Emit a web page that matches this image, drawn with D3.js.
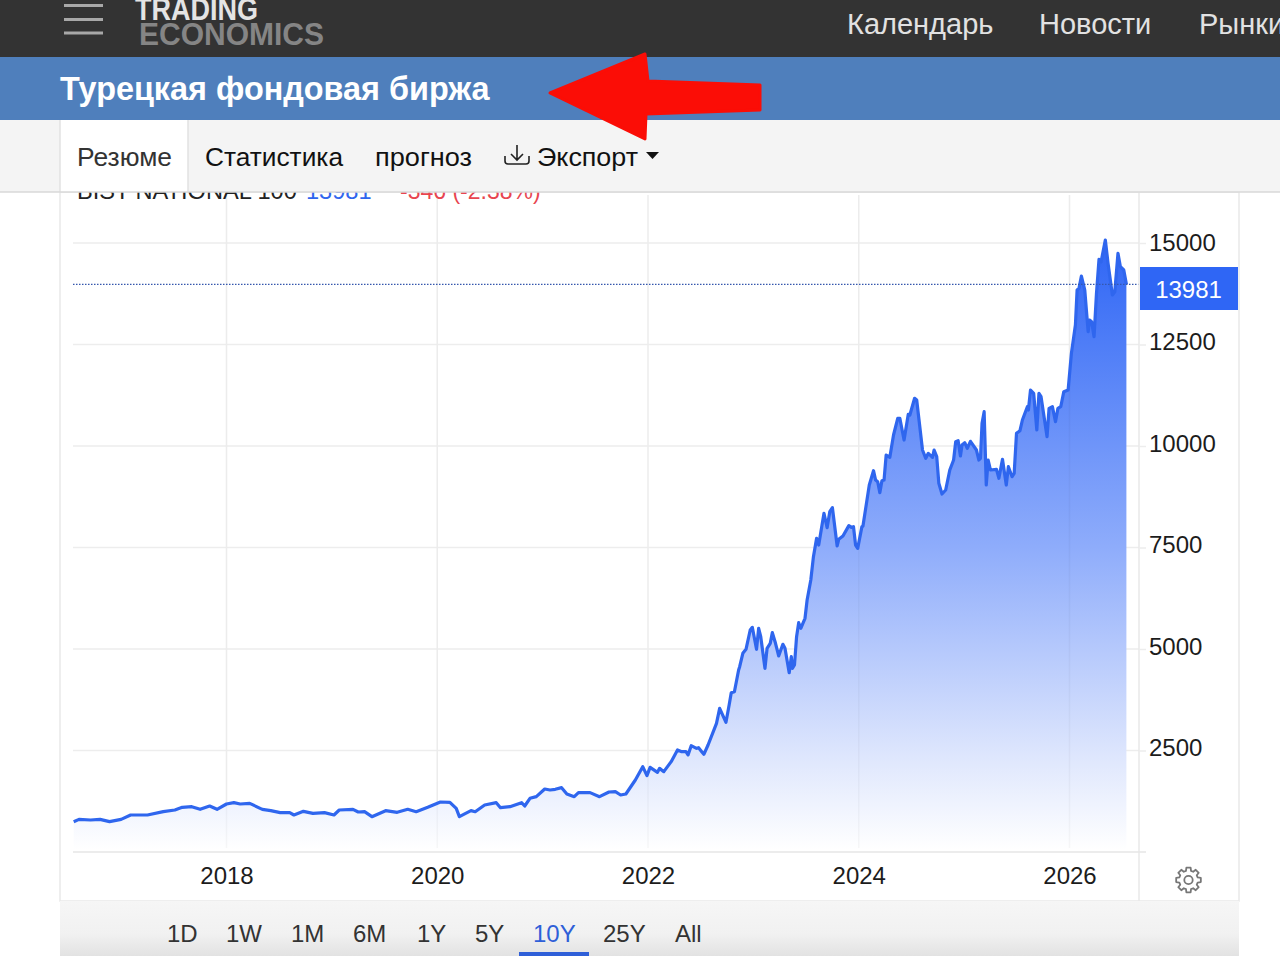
<!DOCTYPE html>
<html>
<head>
<meta charset="utf-8">
<title>Турецкая фондовая биржа</title>
<script src="https://cdn.jsdelivr.net/npm/d3@7"></script>
<style>
    html, body { margin: 0; padding: 0; background: #fff; overflow: hidden; }
    svg { display: block; }
    text { font-family: "Liberation Sans", Arial, sans-serif; }
</style>
</head>
<body>
<div id="chart"></div>
<script>
// values, years are decimal
const years = [
    2016.55, 2016.60, 2016.71, 2016.80, 2016.89, 2017.00, 2017.09, 2017.25, 2017.40, 2017.51,
    2017.58, 2017.67, 2017.75, 2017.84, 2017.91, 2018.00, 2018.07, 2018.13, 2018.22, 2018.34,
    2018.42, 2018.51, 2018.60, 2018.64, 2018.73, 2018.82, 2018.93, 2019.02, 2019.07, 2019.20,
    2019.25, 2019.31, 2019.38, 2019.51, 2019.62, 2019.72, 2019.80, 2019.91, 2020.03, 2020.12,
    2020.18, 2020.21, 2020.32, 2020.36, 2020.45, 2020.56, 2020.60, 2020.69, 2020.80, 2020.83,
    2020.88, 2020.94, 2021.02, 2021.07, 2021.12, 2021.18, 2021.23, 2021.30, 2021.34, 2021.45,
    2021.54, 2021.63, 2021.69, 2021.74, 2021.79, 2021.88, 2021.95, 2021.99, 2022.02, 2022.09,
    2022.11, 2022.15, 2022.22, 2022.28, 2022.32, 2022.36, 2022.38, 2022.41, 2022.46, 2022.48,
    2022.51, 2022.53, 2022.57, 2022.65, 2022.68, 2022.74, 2022.77, 2022.79, 2022.82, 2022.86,
    2022.87, 2022.90, 2022.93, 2022.97, 2022.99, 2023.03, 2023.05, 2023.07, 2023.11, 2023.13,
    2023.16, 2023.18, 2023.21, 2023.24, 2023.28, 2023.30, 2023.34, 2023.36, 2023.37, 2023.39,
    2023.41, 2023.43, 2023.45, 2023.49, 2023.51, 2023.545, 2023.57, 2023.60, 2023.62, 2023.67,
    2023.70, 2023.725, 2023.75, 2023.795, 2023.81, 2023.85, 2023.906, 2023.93, 2023.95, 2023.97,
    2023.99, 2024.03, 2024.04, 2024.10, 2024.14, 2024.16, 2024.18, 2024.20, 2024.22, 2024.24,
    2024.26, 2024.295, 2024.33, 2024.37, 2024.39, 2024.43, 2024.47, 2024.485, 2024.53, 2024.55,
    2024.605, 2024.636, 2024.66, 2024.70, 2024.715, 2024.74, 2024.76, 2024.79, 2024.825, 2024.864,
    2024.90, 2024.92, 2024.943, 2024.965, 2024.98, 2025.006, 2025.03, 2025.06, 2025.117, 2025.14,
    2025.155, 2025.17, 2025.19, 2025.21, 2025.228, 2025.25, 2025.307, 2025.33, 2025.364, 2025.40,
    2025.42, 2025.455, 2025.475, 2025.497, 2025.53, 2025.553, 2025.60, 2025.61, 2025.63, 2025.66,
    2025.69, 2025.71, 2025.73, 2025.787, 2025.806, 2025.838, 2025.867, 2025.89, 2025.917, 2025.946,
    2025.987, 2026.018, 2026.056, 2026.072, 2026.09, 2026.113, 2026.145, 2026.177, 2026.19, 2026.21,
    2026.233, 2026.256, 2026.28, 2026.30, 2026.34, 2026.366, 2026.407, 2026.43, 2026.46, 2026.483,
    2026.515, 2026.54
];
const values = [
    747, 804, 788, 804, 747, 804, 911, 911, 993, 1034,
    1100, 1117, 1051, 1133, 1051, 1182, 1215, 1182, 1198, 1051,
    1018, 969, 969, 911, 1002, 952, 969, 911, 1034, 1051,
    985, 993, 870, 1018, 977, 1051, 993, 1100, 1231, 1223,
    1075, 870, 1018, 993, 1158, 1215, 1092, 1117, 1215, 1133,
    1322, 1363, 1552, 1527, 1544, 1585, 1429, 1363, 1462, 1462,
    1363, 1478, 1486, 1404, 1429, 1773, 2102, 1880, 2085, 1962,
    2060, 1979, 2225, 2512, 2471, 2471, 2389, 2619, 2553, 2570,
    2471, 2405, 2636, 3169, 3538, 3194, 3620, 3924, 3948, 4483,
    4564, 4894, 4993, 5468, 5534, 4993, 5510, 5303, 4524, 5017,
    5140, 5402, 5140, 4828, 5116, 5017, 4417, 4811, 4524, 4606,
    5303, 5648, 5510, 5756, 6207, 6699, 7274, 7725, 7561, 8341,
    7988, 8382, 8481, 7537, 7701, 7783, 8038, 7996, 8013, 7561,
    7479, 8013, 8029, 9039, 9392, 9162, 9121, 8850, 9146, 9162,
    9778, 9721, 10271, 10682, 10682, 10147, 10780, 10763, 11175, 11133,
    9901, 9697, 9820, 9721, 9901, 9737, 9081, 8818, 8916, 9409,
    9655, 10106, 10131, 9754, 10025, 10082, 9943, 10115, 9901, 9655,
    9697, 10558, 10845, 9039, 9655, 9409, 9426, 9204, 9672, 9039,
    9490, 9244, 9327, 10312, 10377, 10640, 10968, 10886, 11379, 11298,
    10394, 11298, 11215, 10230, 10927, 10968, 10599, 10927, 10968, 11338,
    11379, 12282, 12980, 13842, 13883, 14187, 13842, 12815, 13103, 13061,
    12692, 13760, 14597, 14539, 15073, 14499, 13719, 13800, 14746, 14416,
    14335, 13981
];
const lastValue = 13981;

const yTicks = [2500, 5000, 7500, 10000, 12500, 15000];
const xTicks = [2018, 2020, 2022, 2024, 2026];
const navItems = ["Календарь", "Новости", "Рынки"];
const tabItems = ["Резюме", "Статистика", "прогноз", "Экспорт"];
const rangeItems = ["1D", "1W", "1M", "6M", "1Y", "5Y", "10Y", "25Y", "All"];
const rangeActive = "10Y";

const width = 1280, height = 956;
const blue = '#2f66ee';

const svg = d3.select('#chart').append('svg')
    .attr('width', width)
    .attr('height', height);

const defs = svg.append('defs');

const grad = defs.append('linearGradient')
    .attr('id', 'areaFill')
    .attr('gradientUnits', 'userSpaceOnUse')
    .attr('x1', 0).attr('x2', 0).attr('y1', 243).attr('y2', 850);
grad.append('stop').attr('offset', '0').attr('stop-color', '#2f66f5');
grad.append('stop').attr('offset', '0.5').attr('stop-color', '#8eacfb');
grad.append('stop').attr('offset', '0.85').attr('stop-color', '#dfe7fd');
grad.append('stop').attr('offset', '1').attr('stop-color', '#ffffff');

const barGrad = defs.append('linearGradient')
    .attr('id', 'barFill')
    .attr('x1', 0).attr('x2', 0).attr('y1', 0).attr('y2', 1);
barGrad.append('stop').attr('offset', '0').attr('stop-color', '#f6f6f6');
barGrad.append('stop').attr('offset', '0.6').attr('stop-color', '#f1f1f1');
barGrad.append('stop').attr('offset', '1').attr('stop-color', '#e2e2e2');

// panel borders
svg.append('rect').attr('x', 60).attr('y', 192).attr('width', 1179).attr('height', 709)
    .attr('fill', '#fff').attr('stroke', '#e9e9e9').attr('stroke-width', 1.5);

// scales
const x = d3.scaleLinear().domain([2018, 2026]).range([226.5, 1069.5]);
const y = d3.scaleLinear().domain([0, 15000]).range([852, 243]);
const data = years.map((year, i) => ({ year, value: values[i] }));

// grid
const plot = svg.append('g');
plot.selectAll('.hgrid')
    .data(yTicks)
    .enter()
    .append('line')
    .attr('x1', 73).attr('x2', 1139)
    .attr('y1', d => y(d)).attr('y2', d => y(d))
    .attr('stroke', '#ededed').attr('stroke-width', 1.5);
plot.selectAll('.vgrid')
    .data(xTicks)
    .enter()
    .append('line')
    .attr('x1', d => x(d)).attr('x2', d => x(d))
    .attr('y1', 195).attr('y2', 848)
    .attr('stroke', '#f4f4f4').attr('stroke-width', 1.5);

// area + line
const area = d3.area().x(d => x(d.year)).y0(y(0)).y1(d => y(d.value));
const line = d3.line().x(d => x(d.year)).y(d => y(d.value));

plot.append('path').datum(data).attr('d', area).attr('fill', 'url(#areaFill)');

// vertical grid shows faintly through the fill
plot.selectAll('.vgrid2')
    .data(xTicks)
    .enter()
    .append('line')
    .attr('x1', d => x(d)).attr('x2', d => x(d))
    .attr('y1', 195).attr('y2', 848)
    .attr('stroke', '#000').attr('stroke-opacity', 0.03).attr('stroke-width', 1.5);

plot.append('path').datum(data).attr('d', line)
    .attr('fill', 'none').attr('stroke', blue).attr('stroke-width', 3.2)
    .attr('stroke-linejoin', 'round');

// last value dotted line
plot.append('line')
    .attr('x1', 73).attr('x2', 1139)
    .attr('y1', y(lastValue)).attr('y2', y(lastValue))
    .attr('stroke', '#3557ad').attr('stroke-width', 1.2).attr('stroke-dasharray', '1.5,1.5');

// axis frame
svg.append('line').attr('x1', 1139).attr('x2', 1139).attr('y1', 192).attr('y2', 901)
    .attr('stroke', '#e9e9e9').attr('stroke-width', 1.5);
svg.append('line').attr('x1', 73).attr('x2', 1146).attr('y1', 852).attr('y2', 852)
    .attr('stroke', '#e6e6e6').attr('stroke-width', 1.5);

const yAxis = svg.append('g')
    .attr('transform', 'translate(1139,0)')
    .call(d3.axisRight(y).tickValues(yTicks).tickFormat(d3.format('d')).tickSize(7).tickPadding(3));
const xAxis = svg.append('g')
    .attr('transform', 'translate(0,852)')
    .call(d3.axisBottom(x).tickValues(xTicks).tickFormat(d3.format('d')).tickSize(0).tickPadding(15));
[yAxis, xAxis].forEach(a => {
    a.select('.domain').remove();
    a.selectAll('.tick line').attr('stroke', '#ededed').attr('stroke-width', 1.5);
    a.selectAll('.tick text')
        .attr('font-family', '"Liberation Sans", Arial, sans-serif')
        .attr('font-size', 24).attr('fill', '#1c1c1c');
});
// the labels below the top one sit a little above their grid lines
yAxis.selectAll('.tick text').attr('y', d => d === 15000 ? 0 : -2.5);

// last value tag
svg.append('rect').attr('x', 1140).attr('y', 267).attr('width', 98).attr('height', 43).attr('fill', '#2f66f5');
svg.append('text').attr('x', 1188.5).attr('y', 298).attr('text-anchor', 'middle')
    .attr('font-size', 24).attr('fill', '#fff').text(lastValue);

// half hidden header of the chart, goes under the tab bar
const sub = svg.append('text').attr('y', 199).attr('font-size', 23.6);
sub.append('tspan').attr('x', 77).attr('fill', '#222').text('BIST NATIONAL 100');
sub.append('tspan').attr('x', 306).attr('fill', '#2f66ee').text('13981');
sub.append('tspan').attr('x', 400).attr('fill', '#e8454f').attr('font-size', 23).text('-346 (-2.38%)');

// tab bar
svg.append('rect').attr('x', 0).attr('y', 120).attr('width', width).attr('height', 72).attr('fill', '#f4f4f4');
svg.append('rect').attr('x', 60).attr('y', 120).attr('width', 128).attr('height', 72).attr('fill', '#fff');
svg.append('line').attr('x1', 60).attr('x2', 60).attr('y1', 120).attr('y2', 192).attr('stroke', '#e2e2e2').attr('stroke-width', 1.5);
svg.append('line').attr('x1', 188).attr('x2', 188).attr('y1', 120).attr('y2', 192).attr('stroke', '#e2e2e2').attr('stroke-width', 1.5);
svg.append('line').attr('x1', 0).attr('x2', width).attr('y1', 192).attr('y2', 192).attr('stroke', '#d8d8d8').attr('stroke-width', 1.5);

const tabX = [77, 205, 375, 537];
const tabW = [95, 138, 97, 101];
svg.selectAll('.tab')
    .data(tabItems)
    .enter()
    .append('text')
    .attr('x', (d, i) => tabX[i])
    .attr('y', 166)
    .attr('font-size', 26.5)
    .attr('textLength', (d, i) => tabW[i])
    .attr('lengthAdjust', 'spacingAndGlyphs')
    .attr('fill', (d, i) => i === 0 ? '#333' : '#111')
    .text(d => d);

// download icon + caret
svg.append('path')
    .attr('d', 'M505,156 v5 q0,3 3,3 h18 q3,0 3,-3 v-5 M517,145 v15 M511,154 l6,6 l6,-6')
    .attr('fill', 'none').attr('stroke', '#222').attr('stroke-width', 1.6);
svg.append('path').attr('d', 'M646,152 h13 l-6.5,7 z').attr('fill', '#111');

// header bars
svg.append('rect').attr('x', 0).attr('y', 0).attr('width', width).attr('height', 57).attr('fill', '#333333');
svg.append('rect').attr('x', 0).attr('y', 57).attr('width', width).attr('height', 63).attr('fill', '#4f7fbc');

svg.selectAll('.burger')
    .data([5.5, 19.5, 33])
    .enter()
    .append('line')
    .attr('x1', 64).attr('x2', 103)
    .attr('y1', d => d).attr('y2', d => d)
    .attr('stroke', '#a8a8a8').attr('stroke-width', 3);

// logo, the top of TRADING is cut by the window in the original too
svg.append('text').attr('x', 135).attr('y', 20).attr('font-size', 31).attr('font-weight', 'bold')
    .attr('fill', '#e4e4e4').attr('textLength', 123).attr('lengthAdjust', 'spacingAndGlyphs').text('TRADING');
svg.append('text').attr('x', 139).attr('y', 45).attr('font-size', 31).attr('font-weight', 'bold')
    .attr('fill', '#858585').attr('textLength', 185).attr('lengthAdjust', 'spacingAndGlyphs').text('ECONOMICS');

const navX = [847, 1039, 1199];
svg.selectAll('.nav')
    .data(navItems)
    .enter()
    .append('text')
    .attr('x', (d, i) => navX[i])
    .attr('y', 34)
    .attr('font-size', 29)
    .attr('fill', '#e2e2e2')
    .text(d => d);

svg.append('text').attr('x', 60).attr('y', 100).attr('font-size', 32.4).attr('font-weight', 'bold')
    .attr('fill', '#fff').text('Турецкая фондовая биржа');

// red arrow drawn over the screenshot
svg.append('path')
    .attr('d', 'M550,93 L645,54 L648,81 L760,85 L760,110 L646,114 L645,139 Z')
    .attr('fill', '#fb0d06').attr('stroke', '#fb0d06').attr('stroke-width', 3).attr('stroke-linejoin', 'round');

// bottom range bar
svg.append('rect').attr('x', 60).attr('y', 901).attr('width', 1179).attr('height', 55).attr('fill', 'url(#barFill)');
const rangeX = [167, 226, 291, 353, 417, 475, 533, 603, 675];
svg.selectAll('.range')
    .data(rangeItems)
    .enter()
    .append('text')
    .attr('x', (d, i) => rangeX[i])
    .attr('y', 942)
    .attr('font-size', 24)
    .attr('fill', d => d === rangeActive ? '#2f5fd8' : '#333')
    .text(d => d);
svg.append('rect').attr('x', 519).attr('y', 952).attr('width', 70).attr('height', 4).attr('fill', '#2f5fd8');

// gear icon
const gearR = [];
for (let i = 0; i < 8; i++) {
    const a = i * Math.PI / 4;
    gearR.push([a - 0.17, 12.5], [a + 0.17, 12.5], [a + 0.27, 9.5], [a + Math.PI / 4 - 0.27, 9.5]);
}
const gear = svg.append('g').attr('transform', 'translate(1188.5,880)')
    .attr('fill', 'none').attr('stroke', '#777').attr('stroke-width', 1.8).attr('stroke-linejoin', 'round');
gear.append('path').attr('d', d3.lineRadial().curve(d3.curveLinearClosed)(gearR));
gear.append('circle').attr('r', 4.2);
</script>
</body>
</html>
